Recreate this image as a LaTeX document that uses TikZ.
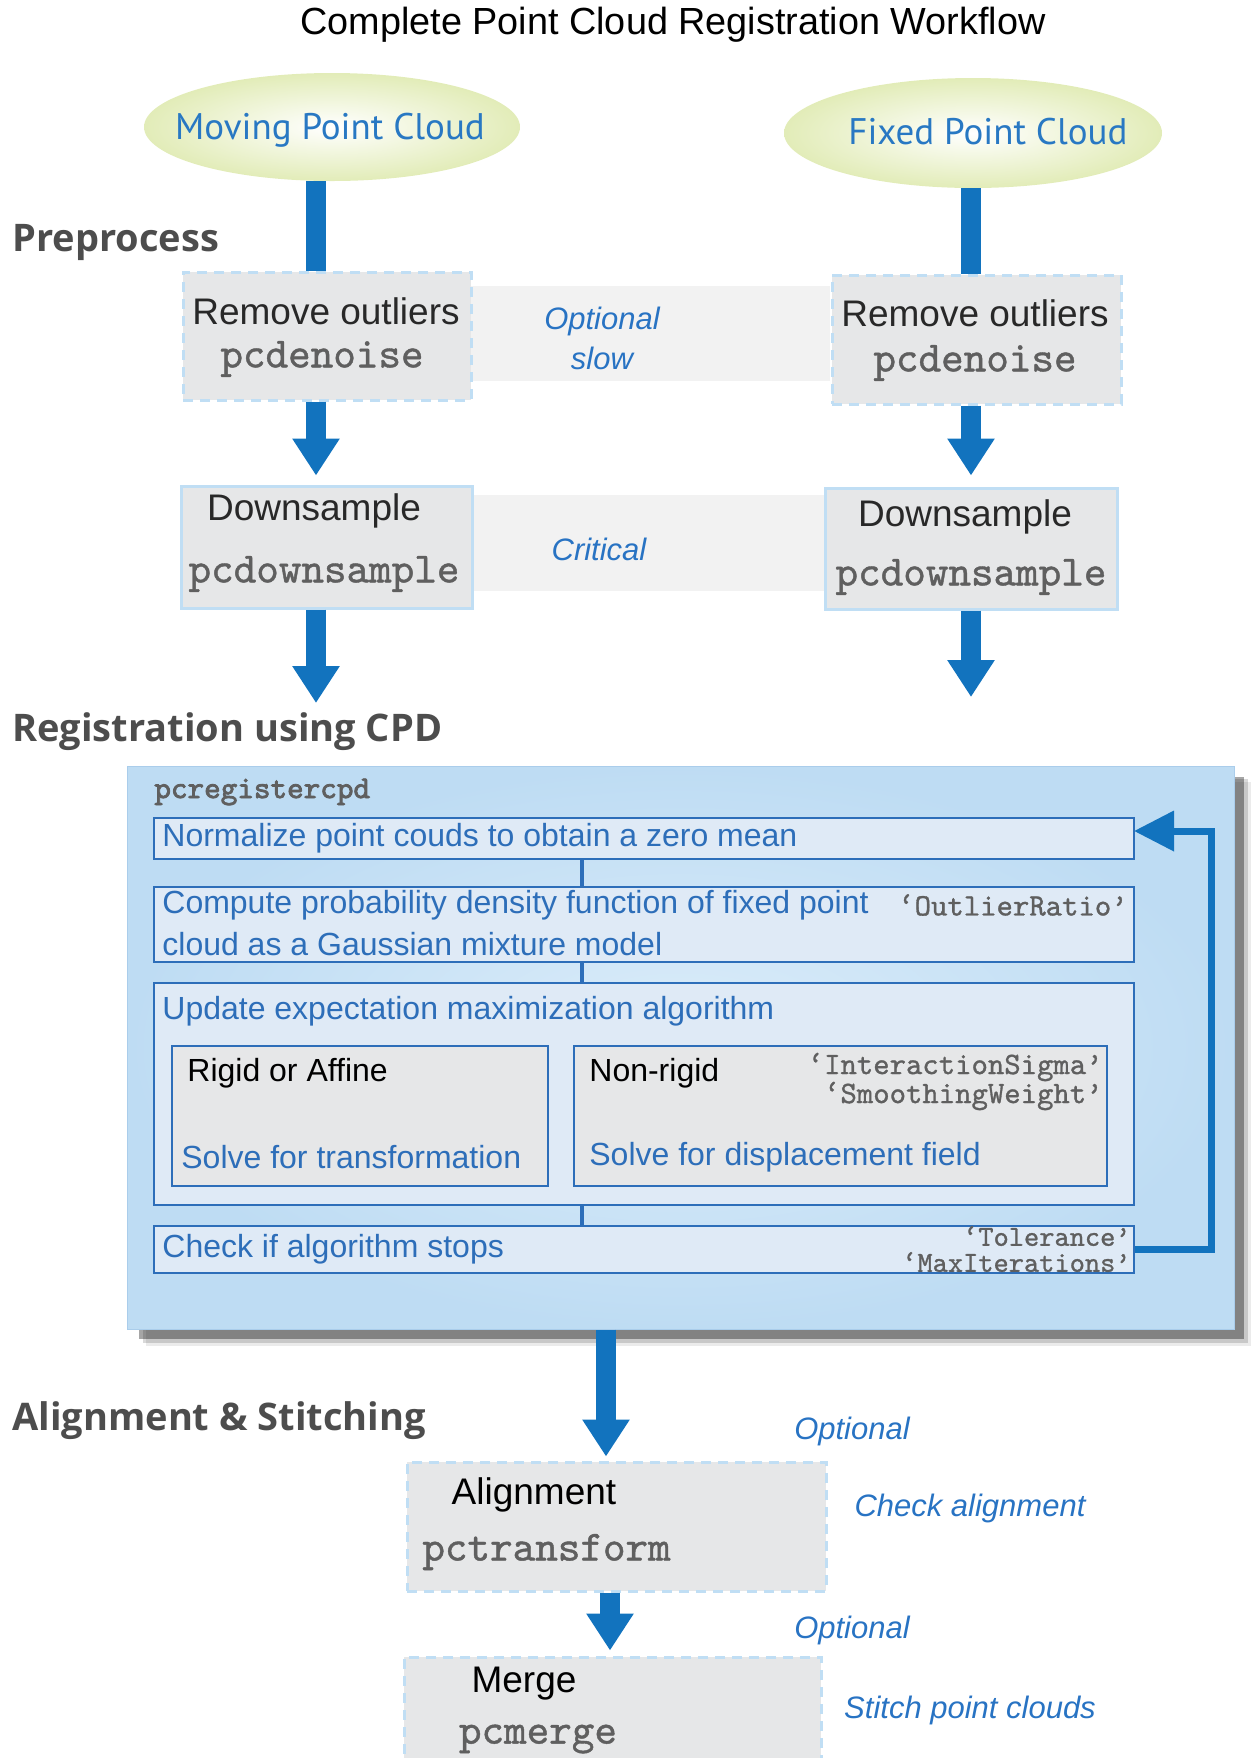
\documentclass[tikz,border=0pt]{standalone}
\usepackage{fontspec}
\setmainfont{Liberation Sans}
\newfontfamily\ptsans{PT Sans}
\newfontfamily\osans{Open Sans}
\newfontfamily\cmono{lmmono10-regular}[Extension=.otf,FakeBold=1]
\newfontfamily\cmonob{lmmono10-regular}[Extension=.otf,FakeBold=2.5]
\usetikzlibrary{arrows.meta,fit,shapes.geometric}
\definecolor{arrowblue}{RGB}{18,115,190}
\definecolor{cloudblue}{RGB}{40,120,195}
\definecolor{boxgray}{RGB}{230,231,232}
\definecolor{dashblue}{RGB}{192,222,244}
\definecolor{bandgray}{RGB}{242,242,242}
\definecolor{labelblue}{RGB}{40,115,195}
\definecolor{secgray}{RGB}{77,77,77}
\definecolor{monogray}{RGB}{95,95,95}
\definecolor{bigfill}{RGB}{190,220,243}
\definecolor{bigin}{RGB}{220,237,250}
\definecolor{bigline}{RGB}{170,205,235}
\definecolor{innerfill}{RGB}{223,234,246}
\definecolor{innerline}{RGB}{45,110,185}
\definecolor{cloudfill}{RGB}{226,236,184}
\definecolor{textdark}{RGB}{40,40,40}
\begin{document}
\begin{tikzpicture}[x=0.5pt,y=-0.5pt,
  cloud/.style={ellipse,inner sep=0pt,inner color=white,outer color=cloudfill},
  cloudtxt/.style={font=\ptsans\fontsize{18.5pt}{20pt}\selectfont,text=cloudblue,inner sep=0pt},
  titlef/.style={font=\fontsize{18.9pt}{20pt}\selectfont,inner sep=0pt},
  sect/.style={font=\osans\bfseries\fontsize{19pt}{21pt}\selectfont,text=secgray,inner sep=0pt,anchor=west},
  band/.style={fill=bandgray,inner sep=0pt,draw=none},
  dbox/.style={fill=boxgray,draw=dashblue,line width=1.5pt,dash pattern=on 5pt off 3.5pt,inner sep=0pt},
  sbox/.style={fill=boxgray,draw=dashblue,line width=1.5pt,inner sep=0pt},
  blab/.style={font=\fontsize{18.5pt}{20pt}\selectfont,text=textdark,inner sep=0pt},
  mlab/.style={font=\cmono\fontsize{21.5pt}{22pt}\selectfont,text=monogray,inner sep=0pt},
  ital/.style={font=\itshape\fontsize{15.5pt}{17pt}\selectfont,text=labelblue,inner sep=0pt},
  bar/.style={draw=arrowblue,line width=10pt},
  bararrow/.style={bar,-{Triangle[width=22.5pt,length=18.5pt]}},
  ibox/.style={fill=innerfill,draw=innerline,line width=1.2pt,inner sep=0pt},
  gibox/.style={fill=boxgray,draw=innerline,line width=1.2pt,inner sep=0pt},
  itxt/.style={font=\fontsize{16pt}{18pt}\selectfont,text=innerline,inner sep=0pt,anchor=west},
  ktxt/.style={font=\fontsize{16pt}{18pt}\selectfont,text=black,inner sep=0pt,anchor=west},
  ptxt/.style={font=\cmono\fontsize{15.6pt}{16pt}\selectfont,text=monogray,inner sep=0pt,anchor=east},
  conn/.style={draw=innerline,line width=2pt},
  fb/.style={draw=arrowblue,line width=3.5pt,-{Triangle[width=19.5pt,length=20pt]}}
]
\useasboundingbox (0,0) rectangle (1256,1758);

% title
\node[titlef] (title) at (673,25) {Complete Point Cloud Registration Workflow};

% section labels
\node[sect] (s1) at (12,242) {Preprocess};
\node[sect] (s2) at (12,732) {Registration using CPD};
\node[sect] (s3) at (12,1421) {Alignment \& Stitching};

% bands
\node[band,fit={(471,286)(830,381)}] (band1) {};
\node[band,fit={(472,495)(826,591)}] (band2) {};
\node[ital] (opt1) at (602,321) {Optional};
\node[ital] (slow) at (602,358) {slow};
\node[ital] (crit) at (599,549) {Critical};

% clouds
\node[cloud,minimum width=188pt,minimum height=54pt] (mov) at (332,127) {};
\node[cloudtxt] (movt) at (330,130) {Moving Point Cloud};
\node[cloud,minimum width=189pt,minimum height=55pt] (fix) at (973,133) {};
\node[cloudtxt] (fixt) at (988,132) {Fixed Point Cloud};

% preprocess boxes
\node[dbox,fit={(183,272)(471,400)}] (rmL) {};
\node[blab] (rmLt) at (326,311) {Remove outliers};
\node[mlab] (rmLm) at (322,359) {pcdenoise};
\node[dbox,fit={(832,275)(1121,404)}] (rmR) {};
\node[blab] (rmRt) at (975,313) {Remove outliers};
\node[mlab] (rmRm) at (975,363) {pcdenoise};

\node[sbox,fit={(181,486)(472,608)}] (dsL) {};
\node[blab] (dsLt) at (314,511) {Downsample};
\node[mlab] (dsLm) at (324,574) {pcdownsample};
\node[sbox,fit={(825,488)(1117,609)}] (dsR) {};
\node[blab] (dsRt) at (965,517) {Downsample};
\node[mlab] (dsRm) at (971,577) {pcdownsample};

% arrows preprocess
\coordinate (xL) at (316,0);
\coordinate (xR) at (971,0);
\coordinate (endL) at (316,703);
\coordinate (endR) at (971,697);
\draw[bar] (mov.south -| xL) -- (rmL.north -| xL);
\draw[bar] (fix.south -| xR) -- (rmR.north -| xR);
\draw[bararrow,shorten >=4.5pt] (rmL.south -| xL) -- (dsL.north -| xL);
\draw[bararrow,shorten >=5.5pt] (rmR.south -| xR) -- (dsR.north -| xR);
\draw[bararrow] (dsL.south -| xL) -- (endL);
\draw[bararrow] (dsR.south -| xR) -- (endR);

% big registration box with shadow
\fill[black,opacity=0.08] (146,782) rectangle (1251,1346);
\fill[black,opacity=0.15] (143,779) rectangle (1248,1343);
\fill[black,opacity=0.35] (139,777) rectangle (1244,1339);
\node[inner color=bigin,outer color=bigfill,draw=bigline,line width=0.5pt,inner sep=0pt,fit={(127,766)(1234,1329)}] (big) {};
\node[font=\cmonob\fontsize{15.8pt}{16pt}\selectfont,text=monogray,inner sep=0pt,anchor=west] (pcr) at (154,792) {pcregistercpd};

\node[ibox,fit={(154,818)(1134,859)}] (b1) {};
\node[itxt] (b1t) at (162,838) {Normalize point couds to obtain a zero mean};
\node[ibox,fit={(154,887)(1134,962)}] (b2) {};
\node[itxt] (b2t) at (162,905) {Compute probability density function of fixed point};
\node[itxt] (b2u) at (162,944) {cloud as a Gaussian mixture model};
\node[ptxt] (b2p) at (1128,905) {‘OutlierRatio’};
\node[ibox,fit={(154,983)(1134,1205)}] (b3) {};
\node[itxt] (b3t) at (162,1011) {Update expectation maximization algorithm};
\node[gibox,fit={(172,1046)(548,1186)}] (r1) {};
\node[ktxt] (r1t) at (187,1073) {Rigid or Affine};
\node[itxt] (r1u) at (181,1157) {Solve for transformation};
\node[gibox,fit={(574,1046)(1107,1186)}] (r2) {};
\node[ktxt] (r2t) at (589,1073) {Non-rigid};
\node[ptxt] (r2p) at (1103,1067) {‘InteractionSigma’};
\node[ptxt] (r2q) at (1103,1096) {‘SmoothingWeight’};
\node[itxt] (r2u) at (589,1157) {Solve for displacement field};
\node[ibox,fit={(154,1226)(1134,1273)}] (b4) {};
\node[itxt] (b4t) at (162,1249) {Check if algorithm stops};
\node[ptxt,font=\cmono\fontsize{14.5pt}{15pt}\selectfont] (b4p) at (1131,1236) {‘Tolerance’};
\node[ptxt,font=\cmono\fontsize{14.5pt}{15pt}\selectfont] (b4q) at (1131,1262) {‘MaxIterations’};

\coordinate (cx) at (582,0);
\draw[conn] (b1.south -| cx) -- (b2.north -| cx);
\draw[conn] (b2.south -| cx) -- (b3.north -| cx);
\draw[conn] (b3.south -| cx) -- (b4.north -| cx);

\coordinate (fbx) at (1211,0);
\coordinate (fbin) at (1134,831);
\draw[fb] (b4.east) -- (b4.east -| fbx) -- (fbin -| fbx) -- (fbin);

% alignment and stitching
\node[dbox,fit={(407,1462)(826,1591)}] (al) {};
\node[blab,text=black] (alt) at (534,1495) {Alignment};
\node[mlab,anchor=west] (alm) at (422,1552) {pctransform};
\node[dbox,fit={(404,1657)(821,1790)}] (mg) {};
\node[blab,text=black] (mgt) at (524,1684) {Merge};
\node[mlab] (mgm) at (538,1739) {pcmerge};

\coordinate (ax) at (606,0);
\coordinate (ax2) at (610,0);
\draw[bararrow,shorten >=2pt] (big.south -| ax) -- (al.north -| ax);
\draw[bararrow,shorten >=2.5pt] (al.south -| ax2) -- (mg.north -| ax2);

\node[ital] (opt2) at (852,1431) {Optional};
\node[ital] (chk) at (970,1508) {Check alignment};
\node[ital] (opt3) at (852,1630) {Optional};
\node[ital] (sti) at (970,1710) {Stitch point clouds};
\end{tikzpicture}
\end{document}
